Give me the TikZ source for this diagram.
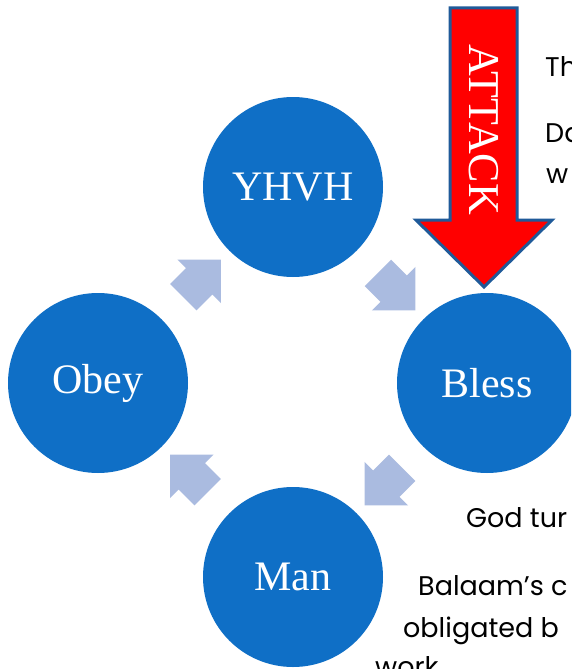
\documentclass[tikz,border=0pt]{standalone}
\usepackage{fontspec}
\setmainfont{Liberation Serif}
\newfontfamily\sideFont{Poppins}
\usepackage{xcolor}
\definecolor{circleBlue}{HTML}{0F6FC6}
\definecolor{cycleArrowColor}{HTML}{AABBE0}
\definecolor{attackRed}{HTML}{FF0000}
\definecolor{attackEdge}{HTML}{1F5A99}
\usepackage{tikz}
\usetikzlibrary{positioning,calc,shapes.arrows}
\tikzset{
  cycleCircle/.style={
    circle,
    fill=circleBlue,
    minimum size=180pt,
    inner sep=0pt,
    text=white,
    font=\fontsize{42}{42}\selectfont
 },
  cycleArrow/.style={
    single arrow,
    fill=cycleArrowColor,
    inner xsep=0pt,
    inner ysep=18.5pt,
    minimum height=53pt,
    single arrow head extend=12pt
 },
  attackShape/.style={
    fill=attackRed,
    draw=attackEdge,
    line width=3pt,
    line join=miter
 },
  sideText/.style={
    anchor=base west,
    inner sep=0pt,
    font=\sideFont\fontsize{27}{27}\selectfont
 }
}
\begin{document}
\begin{tikzpicture}[x=1pt,y=-1pt]
  \useasboundingbox (0,0) rectangle (571,669);
  \clip (0,0) rectangle (571,669);
  \fill[white] (0,0) rectangle (571,669);

  \node[cycleCircle] (yhvh) at (293,187) {YHVH};
  \node[cycleCircle] (bless) at (487,383) {Bless};
  \node[cycleCircle] (man) at (293,577) {Man};
  \node[cycleCircle] (obey) at (98,383) {Obey};

  % arrows of the cycle
  \node[cycleArrow, rotate=-45] (yhvhBless) at ($(yhvh)!0.5!(bless)$) {};
  \node[cycleArrow, rotate=-135] (blessMan) at ($(bless)!0.5!(man)$) {};
  \node[cycleArrow, rotate=135] (manObey) at ($(man)!0.5!(obey)$) {};
  \node[cycleArrow, rotate=45] (obeyYhvh) at ($(obey)!0.5!(yhvh)$) {};

  % attack coming down
  \draw[attackShape] (450,8) -- (517,8) -- (517,220) -- (552,220)
    -- (484,287) -- (416,220) -- (450,220) -- cycle;
  \node[rotate=-90, text=white, font=\fontsize{44}{44}\selectfont] (attackLabel) at (484,130) {ATTACK};

  \node[sideText] (txtA) at (545,76) {Th};
  \node[sideText] (txtB) at (545,142) {Da};
  \node[sideText] (txtC) at (546,183) {w};
  \node[sideText] (txtD) at (466,527) {God tur};
  \node[sideText] (txtE) at (418,595) {Balaam’s c};
  \node[sideText] (txtF) at (403,637) {obligated b};
  \node[sideText] (txtG) at (375,676) {work};
\end{tikzpicture}
\end{document}
